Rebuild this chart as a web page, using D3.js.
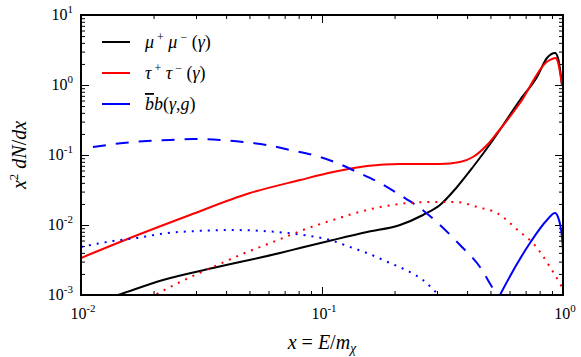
<!DOCTYPE html>
<html>
<head>
<meta charset="utf-8">
<script src="https://cdn.jsdelivr.net/npm/d3@7"></script>
<style>
  body { margin: 0; background: #fff; }
</style>
</head>
<body>
<div id="chart"></div>
<script>
// x = E/m_chi
const muX  = [0.01, 0.01424, 0.02189, 0.03529, 0.06694, 0.08103, 0.1111, 0.1537, 0.2107, 0.2625, 0.3087, 0.3633, 0.4231, 0.5123, 0.6631, 0.78, 0.8583, 0.9265, 0.9535, 0.9905];
const muY  = [0.00068, 0.001, 0.00164, 0.00243, 0.00398, 0.00469, 0.00611, 0.00794, 0.0100, 0.0139, 0.0193, 0.0349, 0.0674, 0.1637, 0.6105, 1.301, 2.43, 2.86, 2.43, 1.0];

const tauX = [0.01, 0.01597, 0.02834, 0.05027, 0.08103, 0.1111, 0.1537, 0.2107, 0.3087, 0.3738, 0.4231, 0.4838, 0.5323, 0.6631, 0.8583, 0.9354, 0.9535, 0.9905];
const tauY = [0.00338, 0.00652, 0.0139, 0.0286, 0.0439, 0.0571, 0.0696, 0.0744, 0.0744, 0.0794, 0.0936, 0.1389, 0.2062, 0.553, 2.15, 2.43, 2.1, 1.0];

const bbDashX = [0.01121, 0.01494, 0.01879, 0.0234, 0.02915, 0.03774, 0.04701, 0.05912, 0.07366, 0.09178, 0.1154, 0.1397, 0.174, 0.2107, 0.255, 0.3087, 0.3738, 0.4524, 0.5075, 0.5323, 0.56];
const bbDashY = [0.1301, 0.1484, 0.1585, 0.1637, 0.1692, 0.1637, 0.1534, 0.1389, 0.1179, 0.1, 0.0769, 0.0571, 0.0398, 0.0268, 0.0175, 0.0100, 0.00518, 0.00251, 0.0013, 0.001, 0.0008];

const bbDotX = [0.01, 0.01358, 0.01708, 0.02274, 0.03029, 0.04152, 0.0569, 0.08339, 0.108, 0.1306, 0.1537, 0.1915, 0.2318, 0.2625, 0.30, 0.32];
const bbDotY = [0.00485, 0.00591, 0.00652, 0.00769, 0.00821, 0.00848, 0.00821, 0.0072, 0.00611, 0.00485, 0.00398, 0.00286, 0.00213, 0.00164, 0.00107, 0.0009];

const tauDotX = [0.018, 0.02028, 0.02575, 0.03529, 0.04885, 0.0626, 0.08339, 0.1111, 0.1537, 0.2107, 0.2888, 0.3633, 0.4396, 0.5323, 0.6631, 0.7507, 0.8834, 0.9905];
const tauDotY = [0.0008, 0.001, 0.00153, 0.00251, 0.00411, 0.00571, 0.00848, 0.0118, 0.0164, 0.0200, 0.0213, 0.0213, 0.0181, 0.0148, 0.00794, 0.00553, 0.00251, 0.0013];

const bbSolX = [0.53, 0.5478, 0.7295, 0.8583, 0.9265, 0.9535, 0.9905, 1.0];
const bbSolY = [0.0008, 0.001, 0.00553, 0.0118, 0.0148, 0.013, 0.00674, 0.0044];

const xMajor = [-2, -1, 0];
const yMajor = [-3, -2, -1, 0, 1];

const series = [
  { x: muX, y: muY, color: "#000", dash: null },
  { x: tauX, y: tauY, color: "#ff0000", dash: null },
  { x: bbDashX, y: bbDashY, color: "#0000ff", dash: "13,10" },
  { x: bbDotX, y: bbDotY, color: "#0000ff", dash: "2,6" },
  { x: tauDotX, y: tauDotY, color: "#ff0000", dash: "2,6" },
  { x: bbSolX, y: bbSolY, color: "#0000ff", dash: null }
];

const FONT = "Liberation Serif";
const width = 581, height = 357;
const margin = { top: 15, right: 18, bottom: 62, left: 81 };
const innerW = width - margin.left - margin.right;
const innerH = height - margin.top - margin.bottom;

const svg = d3.select("#chart").append("svg")
  .attr("width", width)
  .attr("height", height)
  .attr("font-family", FONT);

const chart = svg.append("g")
  .attr("transform", `translate(${margin.left},${margin.top})`);

const x = d3.scaleLog().domain([0.01, 1]).range([0, innerW]);
const y = d3.scaleLog().domain([0.001, 10]).range([innerH, 0]);

svg.append("defs").append("clipPath").attr("id", "clip")
  .append("rect").attr("width", innerW).attr("height", innerH);

// minor / major tick values
const minorTicks = (lo, hi) => {
  const out = [];
  for (let e = lo; e < hi; e++) for (let m = 2; m <= 9; m++) out.push(m * Math.pow(10, e));
  return out;
};
const xMinor = minorTicks(-2, 0);
const yMinor = minorTicks(-3, 1);
const xMaj = xMajor.map((e) => Math.pow(10, e));
const yMaj = yMajor.map((e) => Math.pow(10, e));

function tickAxis(axisFn, scale, values, size, transform) {
  const g = chart.append("g")
    .attr("transform", transform)
    .call(axisFn(scale).tickValues(values).tickSize(-size).tickFormat(""));
  g.select(".domain").remove();
  g.selectAll(".tick line").attr("stroke", "#000").attr("stroke-width", 1);
  return g;
}
tickAxis(d3.axisBottom, x, xMaj, 8, `translate(0,${innerH})`);
tickAxis(d3.axisBottom, x, xMinor, 4, `translate(0,${innerH})`);
tickAxis(d3.axisTop, x, xMaj, 8, "translate(0,0)");
tickAxis(d3.axisTop, x, xMinor, 4, "translate(0,0)");
tickAxis(d3.axisLeft, y, yMaj, 8, "translate(0,0)");
tickAxis(d3.axisLeft, y, yMinor, 4, "translate(0,0)");
tickAxis(d3.axisRight, y, yMaj, 8, `translate(${innerW},0)`);
tickAxis(d3.axisRight, y, yMinor, 4, `translate(${innerW},0)`);

// curves
const line = d3.line()
  .x((d) => x(d[0]))
  .y((d) => y(d[1]))
  .curve(d3.curveMonotoneX);

const curves = chart.append("g").attr("clip-path", "url(#clip)");
series.forEach((s) => {
  curves.append("path")
    .datum(s.x.map((v, i) => [v, s.y[i]]))
    .attr("fill", "none")
    .attr("stroke", s.color)
    .attr("stroke-width", 2)
    .attr("stroke-dasharray", s.dash)
    .attr("d", line);
});

// frame
chart.append("rect")
  .attr("width", innerW)
  .attr("height", innerH)
  .attr("fill", "none")
  .attr("stroke", "#000")
  .attr("stroke-width", 2);

// tick labels 10^n
function powLabel(parent, px, py, exp, anchor) {
  const t = parent.append("text")
    .attr("x", px).attr("y", py)
    .attr("text-anchor", anchor)
    .attr("font-family", FONT)
    .attr("font-size", 16);
  t.append("tspan").text("10");
  t.append("tspan").attr("dy", -7).attr("font-size", 11).text(exp < 0 ? "-" + Math.abs(exp) : exp);
}
xMajor.forEach((e) => powLabel(chart, x(Math.pow(10, e)) + 2, innerH + 24, e, "middle"));
yMajor.forEach((e) => powLabel(chart, -8, y(Math.pow(10, e)) + 5, e, "end"));

// axis labels
const xl = chart.append("text")
  .attr("x", innerW / 2)
  .attr("y", innerH + 54)
  .attr("text-anchor", "middle")
  .attr("font-family", FONT)
  .attr("font-size", 20);
xl.append("tspan").attr("font-style", "italic").text("x");
xl.append("tspan").text(" = ");
xl.append("tspan").attr("font-style", "italic").text("E");
xl.append("tspan").text("/");
xl.append("tspan").attr("font-style", "italic").text("m");
xl.append("tspan").attr("dy", 4).attr("font-size", 14).attr("font-style", "italic").text("χ");

const yl = chart.append("text")
  .attr("transform", `translate(${-55},${innerH / 2}) rotate(-90)`)
  .attr("text-anchor", "middle")
  .attr("font-family", FONT)
  .attr("font-size", 20);
yl.append("tspan").attr("font-style", "italic").text("x");
yl.append("tspan").attr("dy", -8).attr("font-size", 13).text("2");
yl.append("tspan").attr("dy", 8).text(" ");
yl.append("tspan").attr("font-style", "italic").text("dN");
yl.append("tspan").text("/");
yl.append("tspan").attr("font-style", "italic").text("dx");

// legend
const legendItems = [
  { color: "#000", parts: [["μ", 0, 1], [" +", -7, 0], [" μ", 0, 1], [" −", -7, 0], ["  (", 0, 0], ["γ", 0, 1], [")", 0, 0]] },
  { color: "#ff0000", parts: [["τ", 0, 1], [" +", -7, 0], [" τ", 0, 1], [" −", -7, 0], ["  (", 0, 0], ["γ", 0, 1], [")", 0, 0]] },
  { color: "#0000ff", parts: [["b", 0, 2], ["b", 0, 1], ["(", 0, 0], ["γ", 0, 1], [",", 0, 0], ["g", 0, 1], [")", 0, 0]] }
];
const legend = chart.append("g").attr("transform", "translate(21,27)");
legendItems.forEach((d, i) => {
  const row = legend.append("g").attr("transform", `translate(0,${i * 31})`);
  row.append("line")
    .attr("x1", 0).attr("x2", 28)
    .attr("stroke", d.color).attr("stroke-width", 2);
  const t = row.append("text")
    .attr("x", 43).attr("y", 6)
    .attr("font-family", FONT)
    .attr("font-size", 18);
  let prev = 0;
  d.parts.forEach(([txt, shift, it]) => {
    const ts = t.append("tspan")
      .attr("dy", shift - prev)
      .attr("font-size", shift ? 12 : 18)
      .attr("font-style", it ? "italic" : "normal")
      .text(txt);
    if (it === 2) ts.style("text-decoration", "overline");
    prev = shift;
  });
});
</script>
</body>
</html>
